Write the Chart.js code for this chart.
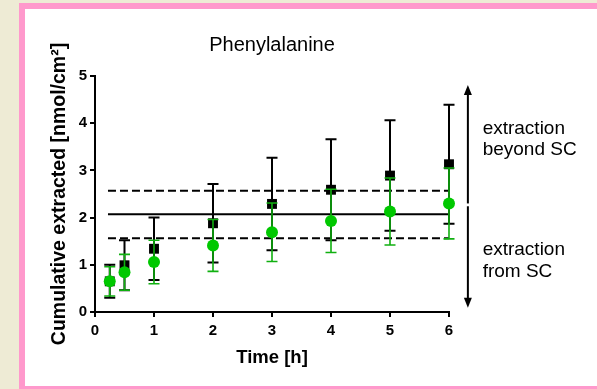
<!DOCTYPE html>
<html><head><meta charset="utf-8">
<script src="https://cdn.jsdelivr.net/npm/chart.js@4.4.1/dist/chart.umd.min.js"></script>
<style>
html,body{margin:0;padding:0;width:597px;height:389px;overflow:hidden;background:#EEEBD5;}
#frame{position:absolute;left:19px;top:3px;width:600px;height:386px;box-sizing:border-box;background:#fff;border:6px solid #FF99CC;border-right:none;border-bottom-width:3px;}
#wrap{position:absolute;left:0;top:0;width:597px;height:389px;}
</style></head><body>
<div id="frame"></div>
<div id="wrap"><canvas id="c" width="597" height="389"></canvas></div>
<script>
// ---- data ----
const times = [0.25, 0.5, 1, 2, 3, 4, 5, 6];
const blackMean = [0.65, 0.99, 1.34, 1.88, 2.29, 2.59, 2.89, 3.13];
const blackSD   = [0.35, 0.53, 0.66, 0.83, 0.98, 1.07, 1.17, 1.26];
const greenMean = [0.65, 0.84, 1.06, 1.41, 1.69, 1.93, 2.13, 2.30];
const greenSD   = [0.31, 0.38, 0.46, 0.55, 0.62, 0.67, 0.71, 0.75];
const refSolid = 2.07;
const refDashed = [2.57, 1.56];
const refRange = [0.22, 6];
const xTicks = [0, 1, 2, 3, 4, 5, 6];
const yTicks = [0, 1, 2, 3, 4, 5];
const arrowX = 6.32;
const arrowUp = [2.30, 4.81];
const arrowDown = [2.24, 0.09];
const noteX = 6.57;
const noteLines = ["extraction", "beyond SC", "extraction", "from SC"];
const noteY = [3.77, 3.33, 1.20, 0.75];
const titleText = "Phenylalanine";
const xTitle = "Time [h]";
const yTitle = "Cumulative extracted [nmol/cm²]";

const FONT = "Arial, 'Liberation Sans', sans-serif";
Chart.defaults.font.family = FONT;
Chart.defaults.color = '#000';

const pts = (xs, ys) => xs.map((x, i) => ({x: x, y: ys[i]}));
const lineData = (v) => refRange.map(x => ({x: x, y: v}));

const errorBars = {
  id: 'errorBars',
  beforeDatasetDraw(chart, args) {
    const ds = chart.data.datasets[args.index];
    if (!ds.errSD) return;
    const xs = chart.scales.x, ys = chart.scales.y, ctx = chart.ctx;
    ctx.save();
    ctx.strokeStyle = ds.errColor;
    ctx.lineWidth = ds.errWidth;
    ds.data.forEach((p, i) => {
      const px = xs.getPixelForValue(p.x);
      const hi = ys.getPixelForValue(p.y + ds.errSD[i]);
      const lo = ys.getPixelForValue(p.y - ds.errSD[i]);
      ctx.beginPath();
      ctx.moveTo(px, hi); ctx.lineTo(px, lo);
      ctx.moveTo(px - 5.5, hi); ctx.lineTo(px + 5.5, hi);
      ctx.moveTo(px - 5.5, lo); ctx.lineTo(px + 5.5, lo);
      ctx.stroke();
    });
    ctx.restore();
  }
};

const annotations = {
  id: 'annotations',
  afterDraw(chart) {
    const xs = chart.scales.x, ys = chart.scales.y, ctx = chart.ctx;
    ctx.save();
    ctx.strokeStyle = '#000'; ctx.fillStyle = '#000'; ctx.lineWidth = 2;
    const ax = xs.getPixelForValue(arrowX);
    const arrow = (from, to) => {
      const y0 = ys.getPixelForValue(from), y1 = ys.getPixelForValue(to);
      const dir = y1 < y0 ? 1 : -1;
      ctx.beginPath(); ctx.moveTo(ax, y0); ctx.lineTo(ax, y1 + dir * 6); ctx.stroke();
      ctx.beginPath(); ctx.moveTo(ax, y1); ctx.lineTo(ax - 4, y1 + dir * 10); ctx.lineTo(ax + 4, y1 + dir * 10); ctx.closePath(); ctx.fill();
    };
    arrow(arrowUp[0], arrowUp[1]);
    arrow(arrowDown[0], arrowDown[1]);
    ctx.font = "19px " + FONT;
    ctx.textAlign = 'left'; ctx.textBaseline = 'alphabetic';
    const nx = xs.getPixelForValue(noteX);
    noteLines.forEach((t, i) => ctx.fillText(t, nx, ys.getPixelForValue(noteY[i])));
    ctx.restore();
  }
};

new Chart(document.getElementById('c'), {
  type: 'scatter',
  data: {
    datasets: [
      {data: pts(times, blackMean), errSD: blackSD, errColor: '#000', errWidth: 2, clip: false,
       pointStyle: 'rect', pointRadius: 7, backgroundColor: '#000', borderWidth: 0, order: 1},
      {data: pts(times, greenMean), errSD: greenSD, errColor: '#10B010', errWidth: 1.6, clip: false,
       pointStyle: 'circle', pointRadius: 6, backgroundColor: '#00C800', borderWidth: 0, order: 0},
      {data: lineData(refSolid), showLine: true, borderColor: '#000', borderWidth: 2, pointRadius: 0, order: 5, clip: false},
      {data: lineData(refDashed[0]), showLine: true, borderColor: '#000', borderWidth: 2, borderDash: [8, 4], pointRadius: 0, order: 5, clip: false},
      {data: lineData(refDashed[1]), showLine: true, borderColor: '#000', borderWidth: 2, borderDash: [8, 4], pointRadius: 0, order: 5, clip: false}
    ]
  },
  options: {
    responsive: false, animation: false, devicePixelRatio: 1,
    layout: {padding: {left: 25, right: 148, top: 0, bottom: 0}},
    plugins: {
      legend: {display: false}, tooltip: {enabled: false},
      title: {display: true, text: titleText, fullSize: false, color: '#000',
              font: {size: 20, weight: 'normal', family: FONT}, padding: {top: 33, bottom: 19}}
    },
    scales: {
      x: {
        type: 'linear', min: 0, max: 6,
        afterBuildTicks: s => { s.ticks = xTicks.map(v => ({value: v})); },
        afterFit: s => { s.height = 77; },
        border: {display: true, color: '#000', width: 2},
        grid: {drawOnChartArea: false, drawTicks: true, tickLength: 5, color: '#000', lineWidth: 2},
        ticks: {color: '#000', padding: 5, font: {size: 15, weight: 'bold', family: FONT}},
        title: {display: true, text: xTitle, color: '#000', font: {size: 18.5, weight: 'bold', family: FONT}, padding: {top: 0, bottom: 20}}
      },
      y: {
        type: 'linear', min: 0, max: 5,
        afterBuildTicks: s => { s.ticks = yTicks.map(v => ({value: v})); },
        afterFit: s => { s.width = 70; },
        border: {display: true, color: '#000', width: 2},
        grid: {drawOnChartArea: false, drawTicks: true, tickLength: 5, color: '#000', lineWidth: 2},
        ticks: {color: '#000', padding: 3, font: {size: 15, weight: 'bold', family: FONT}},
        title: {display: true, text: yTitle, color: '#000', font: {size: 19.5, weight: 'bold', family: FONT}, padding: {top: 23, bottom: 0}}
      }
    }
  },
  plugins: [errorBars, annotations]
});
</script>
</body></html>
